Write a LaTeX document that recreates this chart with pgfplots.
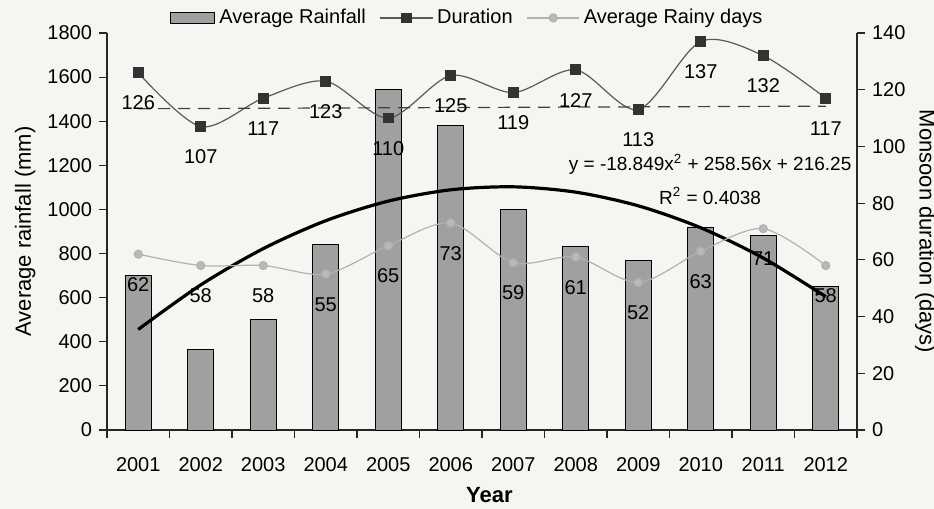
\documentclass[border=0pt]{standalone}
\usepackage{pgfplots}
\pgfplotsset{compat=1.18}
\usepackage{fontspec}
\setmainfont{Liberation Sans}
\definecolor{bgc}{RGB}{246,245,242}
\definecolor{barc}{RGB}{160,160,160}
\begin{document}
\begin{tikzpicture}[font=\fontsize{10}{12}\selectfont]
\fill[bgc] (-53.5pt,-39.5pt) rectangle (413.5pt,215pt);
\useasboundingbox (-53.5pt,-39.5pt) rectangle (413.5pt,215pt);
\begin{axis}[
  at={(0,0)}, anchor=south west,
  scale only axis, width=375pt, height=198.5pt,
  xmin=0.5, xmax=12.5, ymin=0, ymax=1800,
  clip=false,
  axis y line*=left, axis x line*=bottom,
  axis line style={black!85, line width=0.6pt},
  xtick={1,2,3,4,5,6,7,8,9,10,11,12},
  xticklabels={2001,2002,2003,2004,2005,2006,2007,2008,2009,2010,2011,2012},
  major x tick style={draw=none},
  minor xtick={0.5,1.5,2.5,3.5,4.5,5.5,6.5,7.5,8.5,9.5,10.5,11.5,12.5},
  ytick={0,200,...,1800},
  tick align=outside,
  major tick length=4pt, minor tick length=4pt,
  tick style={black!85, line width=0.6pt},
  xticklabel style={yshift=-6pt},
  /pgf/number format/assume math mode=true,
  /pgf/number format/1000 sep={},
  ylabel={Average rainfall (mm)},
  ylabel style={at={(axis description cs:-0.109,0.5)}, anchor=center, font=\fontsize{11}{13}\selectfont},
  xlabel={Year},
  xlabel style={at={(axis description cs:0.51,-0.164)}, anchor=center, font=\bfseries\fontsize{11}{13}\selectfont},
]
\addplot[ybar, bar width=13pt, fill=barc, draw=black, line width=0.5pt] coordinates {
(1,701) (2,366) (3,500) (4,843) (5,1545) (6,1380) (7,1000) (8,833) (9,770) (10,918) (11,881) (12,652)};
\addplot[black, line width=1.6pt, smooth] coordinates {
(1,455.96) (2,657.97) (3,822.29) (4,948.91) (5,1037.83) (6,1089.05) (7,1102.57) (8,1078.39) (9,1016.52) (10,916.95) (11,779.68) (12,604.71)};
\node[font=\fontsize{9.5}{11}\selectfont] at (axis cs:10.15,1205) {y = -18.849x\textsuperscript{2} + 258.56x + 216.25};
\node[font=\fontsize{9.5}{11}\selectfont] at (axis cs:10.15,1060) {R\textsuperscript{2} = 0.4038};
\end{axis}
\begin{axis}[
  at={(0,0)}, anchor=south west,
  scale only axis, width=375pt, height=198.5pt,
  xmin=0.5, xmax=12.5, ymin=0, ymax=140,
  clip=false,
  axis y line*=right, axis x line=none,
  axis line style={black!85, line width=0.6pt},
  ytick={0,20,...,140},
  tick align=outside,
  major tick length=4pt,
  tick style={black!85, line width=0.6pt},
  /pgf/number format/assume math mode=true,
  ylabel={Monsoon duration (days)},
  ylabel style={at={(axis description cs:1.091,0.5)}, anchor=center, rotate=180, font=\fontsize{11}{13}\selectfont},
  legend style={at={(axis description cs:0.482,1.038)}, anchor=center, draw=none, fill=none,
    legend columns=-1, font=\fontsize{10}{12}\selectfont,
    /tikz/every odd column/.append style={column sep=0pt},
    /tikz/every even column/.append style={column sep=5pt}},
  legend image code/.code={\draw[mark repeat=2,mark phase=2,#1] plot coordinates {(0pt,0pt) (13pt,0pt) (26pt,0pt)};},
  nodes near coords style={anchor=north, yshift=-8pt, font=\fontsize{10}{12}\selectfont, text=black},
]
\addlegendimage{legend image code/.code={\draw[fill=barc,draw=black,line width=0.5pt] (0pt,-2.6pt) rectangle (22pt,2.6pt);}}
\addlegendentry{Average Rainfall}
\addplot[gray!70!black, line width=0.6pt, smooth, mark=square*, mark size=2.4pt,
  mark options={fill=black!80, draw=black!80}, nodes near coords] coordinates {
(1,126) (2,107) (3,117) (4,123) (5,110) (6,125) (7,119) (8,127) (9,113) (10,137) (11,132) (12,117)};
\addlegendentry{Duration}
\addplot[gray!60, line width=0.6pt, smooth, mark=*, mark size=2pt,
  mark options={fill=gray!55, draw=gray!60}, nodes near coords] coordinates {
(1,62) (2,58) (3,58) (4,55) (5,65) (6,73) (7,59) (8,61) (9,52) (10,63) (11,71) (12,58)};
\addlegendentry{Average Rainy days}
\addplot[forget plot, black!75, line width=0.6pt, dash pattern=on 6pt off 4pt] coordinates {(1,113.3) (12,114.2)};
\end{axis}
\end{tikzpicture}
\end{document}
